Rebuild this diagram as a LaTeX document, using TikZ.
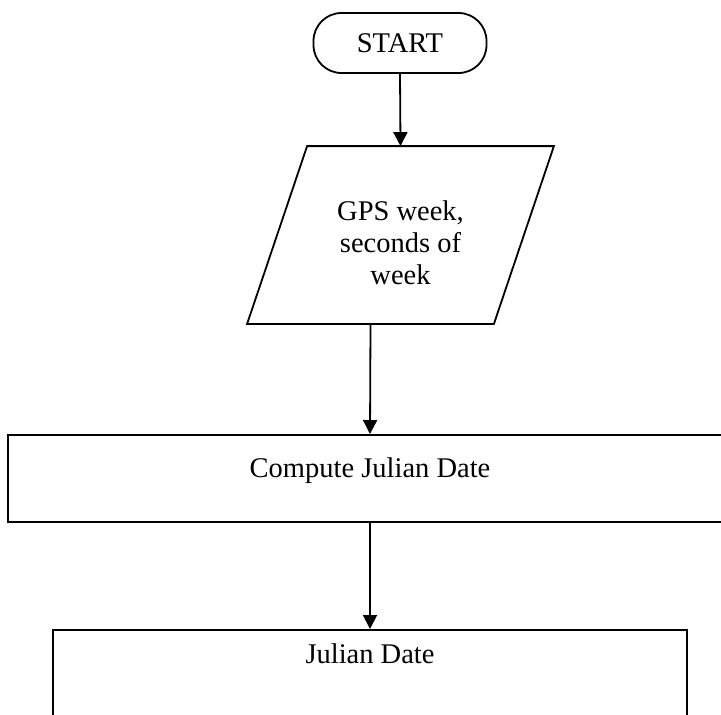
\documentclass[tikz,border=0pt]{standalone}
\usepackage{fontspec}
\setmainfont{Liberation Serif}
\usetikzlibrary{arrows.meta}

\tikzset{
  startbox/.style={draw, rounded corners=14pt, minimum width=86.5pt, minimum height=30pt, inner sep=0pt},
  iobox/.style={minimum width=122.5pt, minimum height=88pt, align=center, inner sep=0pt},
  procbox/.style={draw, inner xsep=0pt, inner ysep=0pt, anchor=north},
  flowarrow/.style={-{Triangle[length=7pt,width=7pt]}},
}

\begin{document}
\begin{tikzpicture}[x=0.5pt, y=-0.5pt, line width=0.9pt, font=\fontsize{14.25}{16}\selectfont]
  \useasboundingbox (0,0) rectangle (721,714);
  \clip (0,0) rectangle (721,714);

  % start
  \node[startbox] (start) at (400,43) {START};

  % input: GPS time (parallelogram round the node)
  \node[iobox, text height=49pt, text depth=0pt] (gps) at (400.5,235) {GPS week,\\seconds of\\week};
  \draw ([xshift=-15pt]gps.south west) -- ([xshift=-15pt]gps.south east)
     -- ([xshift=15pt]gps.north east) -- ([xshift=15pt]gps.north west) -- cycle;

  % processing
  \node[procbox, minimum width=362pt, text height=21.5pt, text depth=22pt] (jd) at (370,434) {Compute Julian Date};

  % output (cut off at the bottom)
  \node[procbox, minimum width=317pt, text height=17pt, text depth=50pt] (jdout) at (370,629) {Julian Date};

  % connectors
  \draw[flowarrow] (start.south) -- (gps.north);
  \draw[flowarrow] ([xshift=-15pt]gps.south) -- (jd.north);
  \draw[flowarrow] (jd.south) -- (jdout.north);
\end{tikzpicture}
\end{document}
